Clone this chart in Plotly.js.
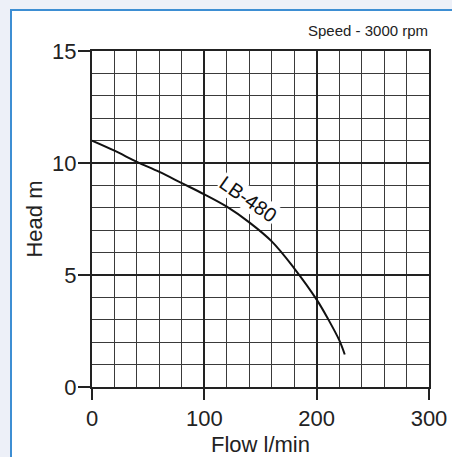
<!DOCTYPE html>
<html>
<head>
<meta charset="utf-8">
<script src="https://cdn.plot.ly/plotly-3.0.1.min.js"></script>
<style>
html,body{margin:0;padding:0;background:#edf0f8;width:452px;height:457px;overflow:hidden;}
#panel{position:absolute;left:10px;top:9px;width:460px;height:470px;background:#fff;border-left:2px solid #3d8ed3;border-top:2px solid #3d8ed3;}
#chart{position:absolute;left:0;top:0;width:452px;height:457px;}
</style>
</head>
<body>
<div id="panel"></div>
<div id="chart"></div>
<script>
const flow = [0, 20, 40, 60, 80, 100, 120, 140, 160, 180, 200, 210, 220, 225];
const head = [11.0, 10.55, 10.05, 9.6, 9.1, 8.6, 8.05, 7.35, 6.5, 5.3, 3.9, 3.05, 2.1, 1.45];
const curveName = "LB-480";
const speedText = "Speed - 3000 rpm";
const xTitle = "Flow l/min";
const yTitle = "Head m";

const font = "Liberation Sans, Arial, sans-serif";
const ink = "#222";

const trace = {
  x: flow, y: head, type: "scatter", mode: "lines",
  line: {color: "#111", width: 2, shape: "spline", smoothing: 1},
  hoverinfo: "skip"
};

const layout = {
  width: 452, height: 457,
  margin: {l: 92, r: 23, t: 51, b: 70},
  paper_bgcolor: "rgba(0,0,0,0)",
  plot_bgcolor: "#fff",
  showlegend: false,
  font: {family: font, color: ink},
  xaxis: {
    range: [0, 300], tickvals: [0, 100, 200, 300], ticktext: ["0", "100", "200", "300"],
    showgrid: true, gridcolor: "#222", gridwidth: 2,
    minor: {dtick: 20, showgrid: true, gridcolor: "#3a3a3a", gridwidth: 1, ticks: ""},
    showline: true, linecolor: "#222", linewidth: 2, mirror: true,
    ticks: "outside", ticklen: 11, tickwidth: 2, tickcolor: "#222",
    tickfont: {size: 22, family: font, color: ink},
    zeroline: false, fixedrange: true,
    title: {text: xTitle, font: {size: 22, family: font, color: ink}, standoff: 8},
    automargin: false
  },
  yaxis: {
    range: [0, 15], tickvals: [0, 5, 10, 15], ticktext: ["0", "5", "10", "15"],
    showgrid: true, gridcolor: "#222", gridwidth: 2,
    minor: {dtick: 1, showgrid: true, gridcolor: "#3a3a3a", gridwidth: 1, ticks: ""},
    showline: true, linecolor: "#222", linewidth: 2, mirror: true,
    ticks: "outside", ticklen: 12, tickwidth: 2, tickcolor: "#222",
    tickfont: {size: 22, family: font, color: ink},
    ticklabelstandoff: -3,
    zeroline: false, fixedrange: true,
    title: {text: yTitle, font: {size: 22, family: font, color: ink}, standoff: 3},
    automargin: false
  },
  annotations: [
    {xref: "paper", yref: "paper", x: 1.003, y: 1.0625, xanchor: "right", yanchor: "middle",
     text: speedText, showarrow: false, font: {size: 15, family: font, color: ink}},
    {xref: "x", yref: "y", x: 139, y: 8.4, xanchor: "center", yanchor: "middle",
     text: curveName, showarrow: false, textangle: 35, bgcolor: "#fff", borderpad: 0,
     font: {size: 20, family: font, color: "#111"}}
  ]
};

Plotly.newPlot("chart", [trace], layout, {displayModeBar: false, staticPlot: true});
</script>
</body>
</html>
